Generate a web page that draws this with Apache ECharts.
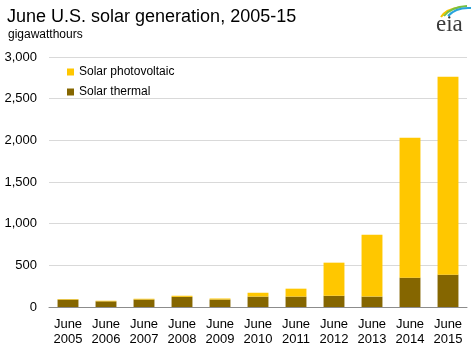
<!DOCTYPE html>
<html><head><meta charset="utf-8">
<script src="https://cdn.jsdelivr.net/npm/echarts@6/dist/echarts.min.js"></script>
<style>html,body{margin:0;padding:0;background:#fff}#c{width:475px;height:355px}</style>
</head><body><div id="c"></div>
<script>
const categories = ['June\n2005','June\n2006','June\n2007','June\n2008','June\n2009','June\n2010','June\n2011','June\n2012','June\n2013','June\n2014','June\n2015'];
const solarThermal = [89, 68, 90, 122, 90, 125, 125, 135, 125, 352, 388];
const solarPV = [6, 7, 9, 13, 12, 46, 95, 397, 743, 1680, 2376];
const yTicks = [0, 500, 1000, 1500, 2000, 2500, 3000];

const chart = echarts.init(document.getElementById('c'));
const font = 'Liberation Sans, Arial, sans-serif';
chart.setOption({
  animation: false,
  title: [
    {text: 'June U.S. solar generation, 2005-15', left: 2, top: 3,
     textStyle: {fontFamily: font, fontSize: 18, fontWeight: 'normal', color: '#000'}},
    {text: 'gigawatthours', left: 3, top: 24,
     textStyle: {fontFamily: font, fontSize: 12, fontWeight: 'normal', color: '#000'}}
  ],
  legend: {
    orient: 'vertical', left: 62, top: 61, itemWidth: 7, itemHeight: 7, itemGap: 8,
    icon: 'rect',
    textStyle: {fontFamily: font, fontSize: 12, color: '#000'},
    data: ['Solar photovoltaic', 'Solar thermal']
  },
  grid: {left: 49, right: 8, top: 57, bottom: 48},
  xAxis: {
    type: 'category', data: categories,
    axisLine: {lineStyle: {color: '#8c8c8c', width: 1}},
    axisTick: {show: false},
    axisLabel: {fontFamily: font, fontSize: 13, color: '#000', lineHeight: 15, margin: 10, interval: 0}
  },
  yAxis: {
    type: 'value', min: 0, max: 3000, interval: 500,
    axisLine: {show: false}, axisTick: {show: false},
    splitLine: {lineStyle: {color: '#d9d9d9', width: 1}},
    axisLabel: {fontFamily: font, fontSize: 13, color: '#000', margin: 12,
      formatter: v => v.toLocaleString('en-US')}
  },
  series: [
    {name: 'Solar thermal', type: 'bar', stack: 's', data: solarThermal, barWidth: '55%',
     itemStyle: {color: '#856600'}},
    {name: 'Solar photovoltaic', type: 'bar', stack: 's', data: solarPV, barWidth: '55%',
     itemStyle: {color: '#FFC700'}}
  ],
  graphic: [
    {type: 'text', left: 436, top: 13, style: {text: 'eia', font: '23px "Liberation Serif", "DejaVu Serif", serif', fill: '#3a3a3a'}},
    {type: 'bezierCurve', shape: {x1: 441, y1: 17, cpx1: 446, cpy1: 9, x2: 461, y2: 7}, style: {stroke: '#f5c400', lineWidth: 2, fill: null}},
    {type: 'bezierCurve', shape: {x1: 444, y1: 16, cpx1: 451, cpy1: 7, x2: 467, y2: 6}, style: {stroke: '#76c043', lineWidth: 2, fill: null}},
    {type: 'bezierCurve', shape: {x1: 448, y1: 16, cpx1: 456, cpy1: 7, x2: 471, y2: 8}, style: {stroke: '#29a3dc', lineWidth: 2, fill: null}}
  ]
});
</script></body></html>
